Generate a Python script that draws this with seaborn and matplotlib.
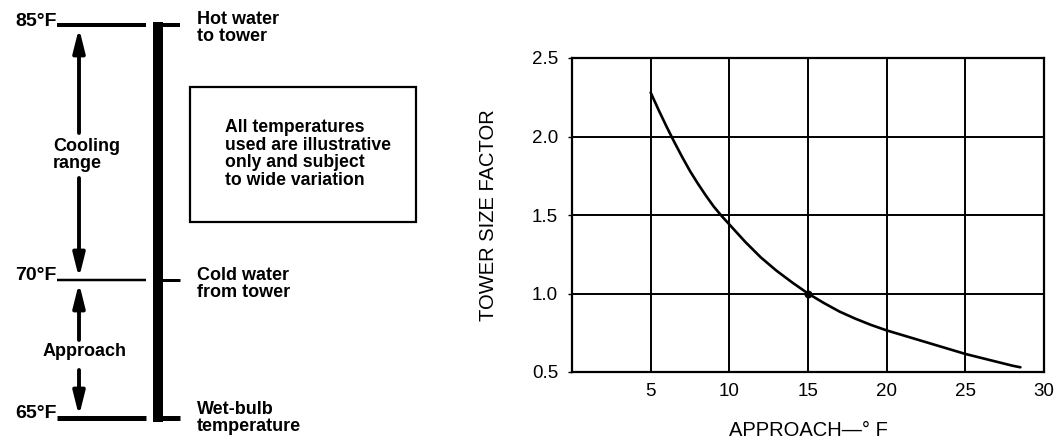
import matplotlib
matplotlib.use("Agg")
import matplotlib.pyplot as plt
import seaborn as sns
import pandas as pd
from matplotlib.patches import Rectangle

# ---- chart data ----
approach_f = [5, 5.5, 6, 6.5, 7, 7.5, 8, 8.5, 9, 9.5, 10, 11, 12, 13, 14, 15,
              16, 17, 18, 19, 20, 21, 22, 23, 24, 25, 26, 27, 28, 28.5]
size_factor = [2.28, 2.17, 2.065, 1.965, 1.87, 1.78, 1.70, 1.625, 1.555, 1.495,
               1.44, 1.33, 1.23, 1.145, 1.07, 1.0, 0.94, 0.885, 0.84, 0.80,
               0.765, 0.735, 0.705, 0.675, 0.645, 0.615, 0.59, 0.565, 0.54, 0.53]
design_point_x = [15]
design_point_y = [1.0]
x_ticks = [5, 10, 15, 20, 25, 30]
y_ticks = [0.5, 1.0, 1.5, 2.0, 2.5]

# ---- diagram text ----
level_labels = ["85°F", "70°F", "65°F"]
level_notes = ["Hot water\nto tower", "Cold water\nfrom tower", "Wet-bulb\ntemperature"]
box_note = "All temperatures\nused are illustrative\nonly and subject\nto wide variation"

# diagram layout in pixels (y grows downward)
level_y = [25, 280, 418]
level_lw = [4.0, 2.5, 5.0]
note_top = [11, 267, 401]

sns.set_style("white")
plt.rcParams["font.family"] = ["Liberation Sans", "DejaVu Sans"]

fig = plt.figure(figsize=(10.6, 4.42), dpi=100)

# ---------------- left schematic ----------------
d = fig.add_axes([0, 0, 1, 1])
d.set_xlim(0, 1060)
d.set_ylim(442, 0)
d.axis("off")

bold = dict(fontsize=13, fontweight="bold", color="black")
for lab, y, lw in zip(level_labels, level_y, level_lw):
    d.plot([57, 146], [y, y], color="black", lw=lw * 0.72, solid_capstyle="butt")
    d.text(57, y - 4, lab, ha="right", va="center", fontsize=14, fontweight="bold", color="black")
    d.plot([160, 180], [y, y], color="black", lw=max(lw, 3) * 0.72, solid_capstyle="butt")
for note, top in zip(level_notes, note_top):
    d.text(197, top, note, ha="left", va="top", linespacing=1.0, **bold)

# tower column
d.add_patch(Rectangle((153, 22), 10, 400, color="black", lw=0))

# range / approach arrows
arrow = dict(arrowstyle="-|>,head_length=1.4,head_width=0.35", color="black",
             lw=2.8, mutation_scale=10, shrinkA=0, shrinkB=0)
for tail, head in [(133, 28), (178, 278), (340, 283), (370, 416)]:
    d.annotate("", xy=(79, head), xytext=(79, tail), arrowprops=arrow)
d.text(53, 155, "Cooling\nrange", ha="left", va="center", linespacing=1.0, **bold)
d.text(85, 352, "Approach", ha="center", va="center", **bold)

# note box
d.add_patch(Rectangle((190, 87), 226, 135, fill=False, ec="black", lw=1.6))
d.text(225, 154, box_note, ha="left", va="center", linespacing=1.05,
       fontsize=12.7, fontweight="bold", color="black")

# ---------------- right chart ----------------
ax = fig.add_axes([572 / 1060, (442 - 372) / 442, 472 / 1060, 314 / 442])
df = pd.DataFrame({"approach": approach_f, "factor": size_factor})
sns.lineplot(data=df, x="approach", y="factor", ax=ax, color="black", lw=1.9)
sns.scatterplot(x=design_point_x, y=design_point_y, ax=ax, color="black", s=28,
                edgecolor="black", zorder=5)

ax.set_xlim(0, 30)
ax.set_ylim(0.5, 2.5)
ax.set_xticks(x_ticks)
ax.set_yticks(y_ticks)
ax.set_yticklabels([f"{v:.1f}" for v in y_ticks])
ax.grid(True, color="black", lw=1.4)
ax.set_axisbelow(True)
for s in ax.spines.values():
    s.set_color("black")
    s.set_linewidth(1.6)
ax.tick_params(axis="x", length=0, pad=8, labelsize=13.5, colors="black")
ax.tick_params(axis="y", length=3, width=1, pad=7, labelsize=13.5, colors="black", left=True)

ax.set_xlabel("APPROACH—° F", fontsize=14.5, color="black")
ax.set_ylabel("TOWER SIZE FACTOR", fontsize=14.5, color="black")
ax.xaxis.set_label_coords(0.5, -0.155)
ax.yaxis.set_label_coords(-0.157, 0.5)

fig.savefig("out.png", dpi=100)
